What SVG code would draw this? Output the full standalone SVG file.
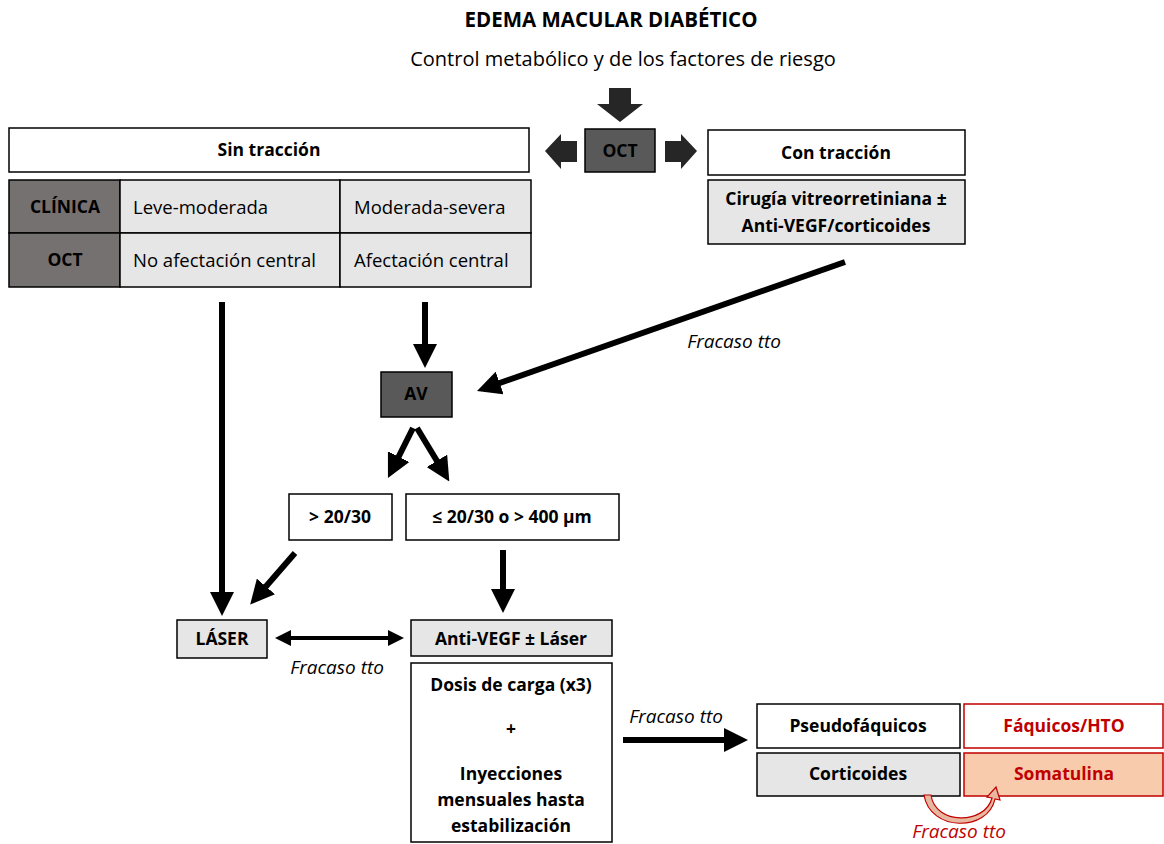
<svg xmlns="http://www.w3.org/2000/svg" width="1164" height="844" viewBox="0 0 1164 844">
<style>
text{font-family:"Open Sans","Liberation Sans",sans-serif;font-size:18.5px;fill:#000;text-anchor:middle}
.b{font-weight:bold;font-size:17.5px}
.i{font-style:italic;font-size:19px}
.box{stroke:#000;stroke-width:1.5;fill:#fff}
.g{fill:#e6e6e6}
.d{fill:#595959}
.d2{fill:#767171}
.red{stroke:#c00000}
.so{fill:#f8cbad}
.rt{fill:#c00000}
.conn{stroke:#000;stroke-width:6;fill:none}
.blk{fill:#262626}
</style>
<defs>
<marker id="ah" markerWidth="4" markerHeight="4" refX="1" refY="2" orient="auto" markerUnits="strokeWidth">
<path d="M0,0 L4,2 L0,4 Z" fill="#000"/>
</marker>
<marker id="ahs" markerWidth="4" markerHeight="4" refX="3" refY="2" orient="auto-start-reverse" markerUnits="strokeWidth">
<path d="M0,0 L4,2 L0,4 Z" fill="#000"/>
</marker>
</defs>
<rect width="1164" height="844" fill="#fff"/>
<g id="title"><text x="611" y="27" class="b" style="font-size:20.5px">EDEMA MACULAR DIABÉTICO</text></g>
<g id="subtitle"><text x="623" y="66" style="font-size:20px">Control metabólico y de los factores de riesgo</text></g>
<g id="block-arrows">
<path class="blk" d="M609,88 H631 V104 H643 L620,122 L597,104 H609 Z"/>
<path class="blk" d="M577,141 V162 H561 V169 L545,151 L561,134 V141 Z"/>
<path class="blk" d="M665,141 V162 H681 V169 L697,151 L681,134 V141 Z"/>
</g>
<g id="oct"><rect class="box d" x="585" y="129" width="70" height="43"/><text x="620" y="157" class="b">OCT</text></g>
<g id="sin-traccion"><rect class="box" x="9" y="128" width="520" height="44"/><text x="269" y="156" class="b">Sin tracción</text></g>
<g id="tabla">
<rect class="box d2" x="9" y="180" width="111" height="53"/>
<rect class="box d2" x="9" y="233" width="111" height="54"/>
<rect class="box g" x="120" y="180" width="220" height="53"/>
<rect class="box g" x="340" y="180" width="191" height="53"/>
<rect class="box g" x="120" y="233" width="220" height="54"/>
<rect class="box g" x="340" y="233" width="191" height="54"/>
<text x="65" y="213" class="b">CLÍNICA</text>
<text x="65" y="266" class="b">OCT</text>
<text x="133" y="214" style="text-anchor:start">Leve-moderada</text>
<text x="354" y="214" style="text-anchor:start">Moderada-severa</text>
<text x="133" y="267" style="text-anchor:start">No afectación central</text>
<text x="354" y="267" style="text-anchor:start">Afectación central</text>
</g>
<g id="con-traccion"><rect class="box" x="708" y="130" width="257" height="45"/><text x="836" y="159" class="b">Con tracción</text></g>
<g id="cirugia"><rect class="box g" x="708" y="180" width="257" height="64"/><text x="836" y="205" class="b">Cirugía vitreorretiniana ±</text><text x="836" y="232" class="b">Anti-VEGF/corticoides</text></g>
<g id="av"><rect class="box d" x="381" y="372" width="71" height="45"/><text x="416" y="400" class="b">AV</text></g>
<g id="gt"><rect class="box" x="289" y="494" width="103" height="46"/><text x="340" y="523" class="b">&gt; 20/30</text></g>
<g id="le"><rect class="box" x="406" y="494" width="213" height="46"/><text x="512" y="523" class="b">≤ 20/30 o &gt; 400 µm</text></g>
<g id="laser"><rect class="box g" x="177" y="620" width="90" height="38"/><text x="222" y="645" class="b">LÁSER</text></g>
<g id="antivegf"><rect class="box g" x="411" y="620" width="201" height="36"/><text x="511" y="645" class="b">Anti-VEGF ± Láser</text></g>
<g id="dosis"><rect class="box" x="411" y="663" width="201" height="179"/>
<text x="511" y="691" class="b">Dosis de carga (x3)</text>
<text x="511" y="735" class="b">+</text>
<text x="511" y="780" class="b">Inyecciones</text>
<text x="511" y="806" class="b">mensuales hasta</text>
<text x="511" y="832" class="b">estabilización</text>
</g>
<g id="pseudo"><rect class="box" x="757" y="704" width="203" height="44"/><text x="858" y="732" class="b">Pseudofáquicos</text></g>
<g id="faquicos"><rect class="box red" x="964" y="704" width="199" height="44"/><text x="1064" y="732" class="b rt">Fáquicos/HTO</text></g>
<g id="corticoides"><rect class="box g" x="757" y="753" width="203" height="43"/><text x="858" y="780" class="b">Corticoides</text></g>
<g id="somatulina"><rect class="box red so" x="964" y="753" width="199" height="43"/><text x="1064" y="780" class="b rt">Somatulina</text></g>
<g id="connectors">
<line class="conn" x1="222" y1="302" x2="222" y2="598" marker-end="url(#ah)"/>
<line class="conn" x1="425" y1="302" x2="425" y2="350" marker-end="url(#ah)"/>
<line class="conn" x1="845" y1="262" x2="494" y2="385" marker-end="url(#ah)"/>
<line class="conn" x1="413" y1="428" x2="396" y2="462" marker-end="url(#ah)"/>
<line class="conn" x1="417" y1="428" x2="440" y2="466" marker-end="url(#ah)"/>
<line class="conn" x1="295" y1="553" x2="262" y2="591" marker-end="url(#ah)"/>
<line class="conn" x1="503" y1="550" x2="503" y2="595" marker-end="url(#ah)"/>
<line x1="279" y1="638" x2="392" y2="638" stroke="#000" stroke-width="4" marker-start="url(#ahs)" marker-end="url(#ah)"/>
<line class="conn" x1="623" y1="740" x2="730" y2="740" marker-end="url(#ah)"/>
<path d="M931,795 C935,825 985,825 992,798 L987,797 L996,787 L1000,800 L995,799 C988,832 930,832 924,795 Z" fill="#e8b7a0" stroke="#c00000" stroke-width="1.2"/>
</g>
<g id="labels">
<text x="734" y="348" class="i">Fracaso tto</text>
<text x="337" y="674" class="i">Fracaso tto</text>
<text x="676" y="723" class="i">Fracaso tto</text>
<text x="959" y="838" class="i rt">Fracaso tto</text>
</g>
</svg>
